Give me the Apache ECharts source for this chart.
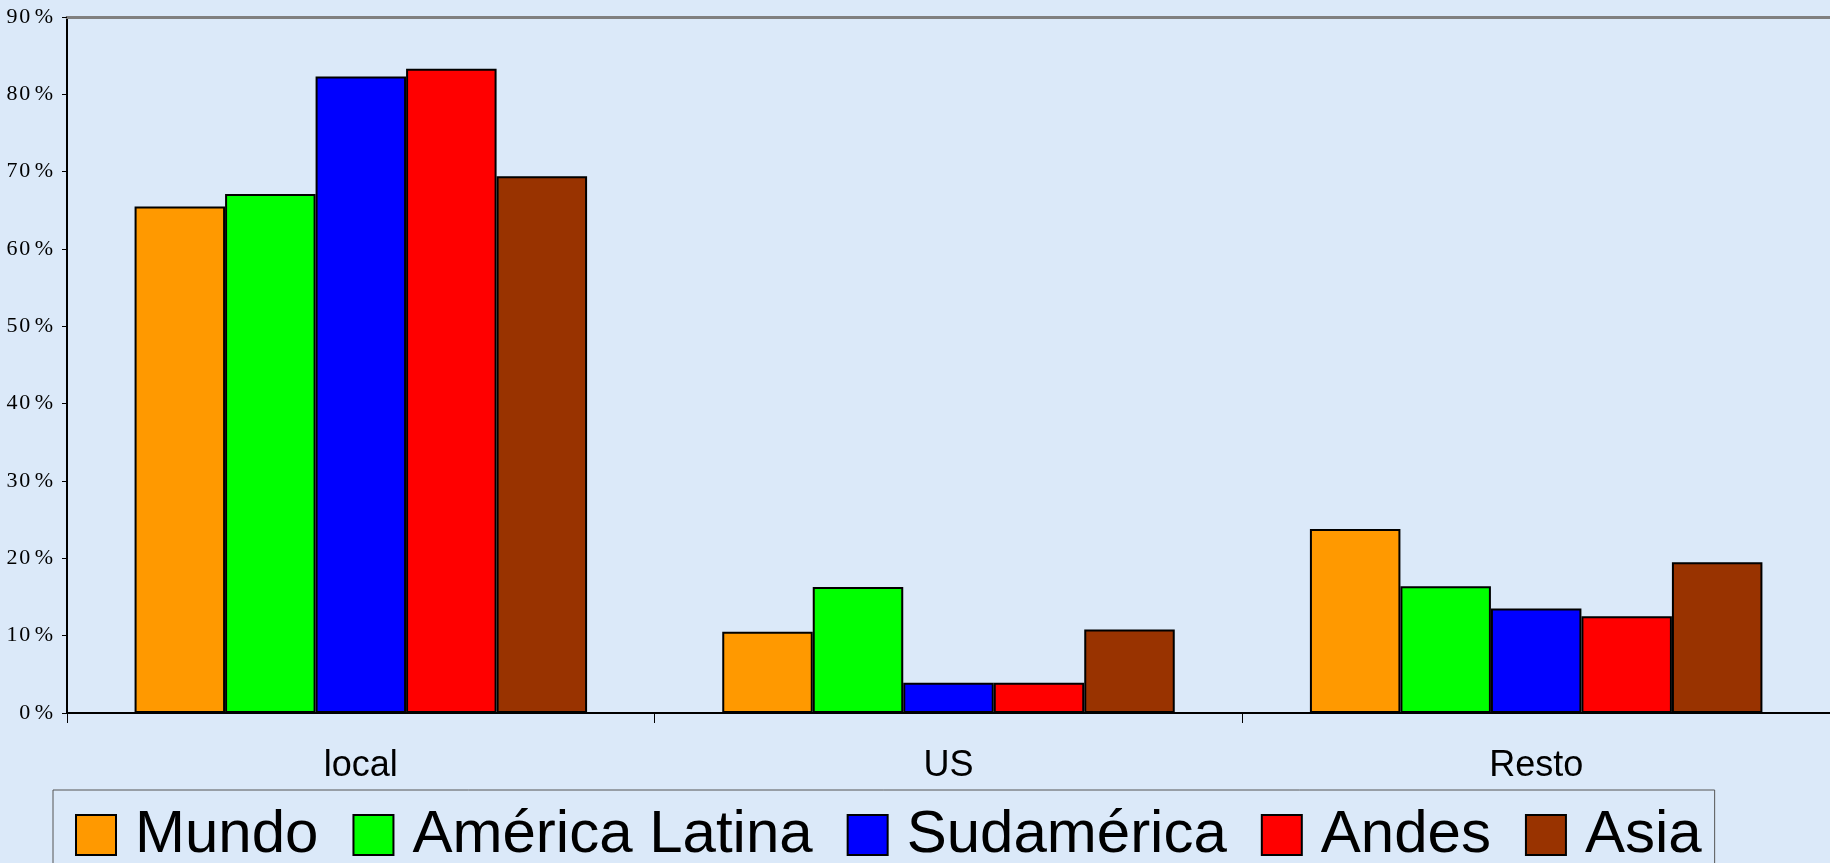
<!DOCTYPE html>
<html>
<head>
<meta charset="utf-8">
<script src="https://cdn.jsdelivr.net/npm/echarts@6/dist/echarts.min.js"></script>
<style>
html,body{margin:0;padding:0;background:#dbe9f9;}
#c{width:1830px;height:863px;}
</style>
</head>
<body>
<div id="c"></div>
<script>
const categories = ['local', 'US', 'Resto'];
const seriesNames = ['Mundo', 'América Latina', 'Sudamérica', 'Andes', 'Asia'];
const mundo = [65.5, 10.5, 23.8];
const americaLatina = [67.1, 16.3, 16.4];
const sudamerica = [82.3, 3.9, 13.5];
const andes = [83.3, 3.9, 12.5];
const asia = [69.4, 10.8, 19.5];
const colors = ['#ff9900', '#00ff00', '#0000ff', '#ff0000', '#993300'];
const values = [mundo, americaLatina, sudamerica, andes, asia];

const chart = echarts.init(document.getElementById('c'));
chart.setOption({
  backgroundColor: '#dbe9f9',
  animation: false,
  grid: {left: 67, top: 17, bottom: 150, right: -10, containLabel: false},
  legend: {
    left: 53, top: 790,
    padding: [15, 13, 10, 22],
    borderColor: '#555', borderWidth: 1,
    itemWidth: 40, itemHeight: 40, itemGap: 34,
    icon: 'rect',
    itemStyle: {borderColor: '#000', borderWidth: 2},
    textStyle: {fontFamily: 'Liberation Sans', fontSize: 60, color: '#000', padding: [0, 0, 0, 14]},
    data: seriesNames
  },
  xAxis: [{
    type: 'category', data: categories, position: 'bottom',
    axisLine: {lineStyle: {color: '#000', width: 2}},
    axisTick: {show: true, length: 10, lineStyle: {color: '#000', width: 1}},
    axisLabel: {fontFamily: 'Liberation Sans', fontSize: 36, color: '#000', margin: 35},
    splitLine: {show: false}
  }, {
    type: 'category', data: categories, position: 'top',
    axisLine: {lineStyle: {color: '#808080', width: 3}},
    axisTick: {show: false}, axisLabel: {show: false}
  }],
  yAxis: {
    type: 'value', min: 0, max: 90, interval: 10,
    axisLine: {show: true, lineStyle: {color: '#000', width: 2}},
    axisTick: {show: true, length: 5, lineStyle: {color: '#000'}},
    axisLabel: {
      formatter: v => String(v).split('').join('\u200A') + '\u2009%',
      fontFamily: 'Liberation Serif', fontSize: 22, color: '#000', margin: 14
    },
    splitLine: {show: false}
  },
  series: seriesNames.map((n, i) => ({
    name: n, type: 'bar', data: values[i],
    barGap: '0%', barCategoryGap: '23%',
    itemStyle: {color: colors[i], borderColor: '#000', borderWidth: 2}
  }))
});
</script>
</body>
</html>
